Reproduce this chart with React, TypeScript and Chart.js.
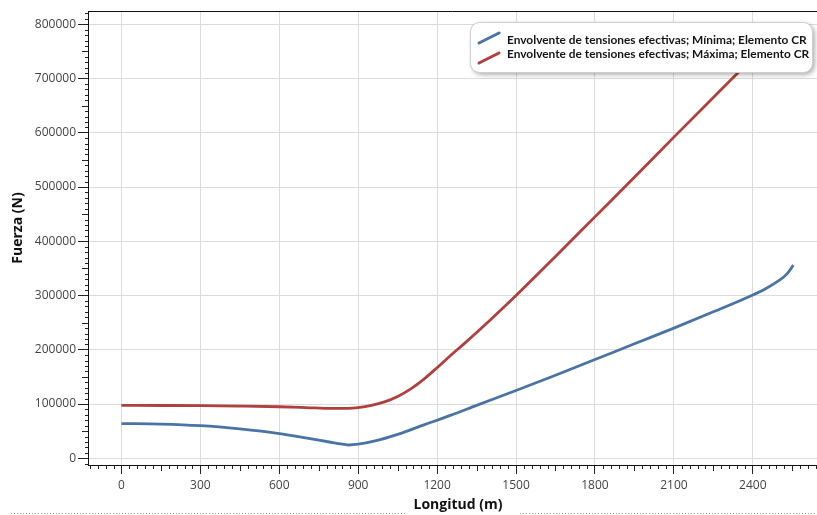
import React, { useEffect, useRef } from 'react';
import { Chart, registerables } from 'chart.js';

Chart.register(...registerables);

// ---- Data ----
const lengthMin = [0, 150, 300, 450, 600, 700, 790, 840, 865, 900, 960, 1050, 1150, 1250, 1350, 1500, 1650, 1800, 1950, 2100, 2250, 2400, 2450, 2500, 2530, 2554];
const minTension = [64000, 63000, 60000, 54000, 45500, 37500, 30000, 26000, 24500, 26000, 31500, 44000, 61500, 79000, 97500, 125000, 153000, 182000, 211000, 240000, 270000, 301000, 313000, 328000, 340000, 356000];

const lengthMax = [0, 150, 300, 450, 600, 700, 800, 860, 900, 950, 1000, 1050, 1100, 1150, 1200, 1250, 1300, 1400, 1500, 1650, 1800, 1950, 2100, 2250, 2400, 2500];
const maxTension = [97500, 97300, 97000, 96200, 95000, 93500, 91800, 92000, 93500, 97500, 104000, 114000, 128000, 146000, 167000, 189000, 210000, 254000, 300000, 372000, 445000, 518000, 592000, 665000, 738000, 786000];

const seriesLabels = [
  'Envolvente de tensiones efectivas; Mínima; Elemento CR',
  'Envolvente de tensiones efectivas; Máxima; Elemento CR',
];
const seriesColors = ['#4A73A6', '#B0403D'];

const xTickValues = [0, 300, 600, 900, 1200, 1500, 1800, 2100, 2400];
const yTickValues = [0, 100000, 200000, 300000, 400000, 500000, 600000, 700000, 800000];
const xTitle = 'Longitud (m)';
const yTitle = 'Fuerza (N)';

const X_MIN = -127;
const X_MAX = 2644;
const Y_MIN = -12400;
const Y_MAX = 824500;
const X_MINOR_STEP = 30;
const X_MID_STEP = 150;
const Y_MINOR_STEP = 10000;
const Y_MID_STEP = 50000;

const decorPlugin = {
  id: 'decor',
  afterDraw(chart: any) {
    const { ctx, chartArea } = chart;
    const xs = chart.scales.x;
    const ys = chart.scales.y;
    ctx.save();
    // top border
    ctx.strokeStyle = '#111';
    ctx.lineWidth = 1;
    ctx.beginPath();
    ctx.moveTo(chartArea.left, Math.round(chartArea.top) + 0.5);
    ctx.lineTo(chartArea.right, Math.round(chartArea.top) + 0.5);
    ctx.stroke();
    // minor ticks x
    ctx.strokeStyle = '#222';
    ctx.beginPath();
    for (let v = Math.ceil(X_MIN / X_MINOR_STEP) * X_MINOR_STEP; v <= X_MAX; v += X_MINOR_STEP) {
      if (v % 300 === 0) continue;
      const len = v % X_MID_STEP === 0 ? 6 : 4;
      const px = Math.round(xs.getPixelForValue(v)) + 0.5;
      ctx.moveTo(px, chartArea.bottom);
      ctx.lineTo(px, chartArea.bottom + len);
    }
    // minor ticks y
    for (let v = Math.ceil(Y_MIN / Y_MINOR_STEP) * Y_MINOR_STEP; v <= Y_MAX; v += Y_MINOR_STEP) {
      if (v % 100000 === 0) continue;
      const len = v % Y_MID_STEP === 0 ? 6 : 3;
      const py = Math.round(ys.getPixelForValue(v)) + 0.5;
      ctx.moveTo(chartArea.left - len, py);
      ctx.lineTo(chartArea.left, py);
    }
    ctx.stroke();

    // axis titles
    ctx.fillStyle = '#111';
    ctx.font = 'bold 14px "Open Sans", sans-serif';
    ctx.textAlign = 'center';
    ctx.textBaseline = 'middle';
    ctx.fillText(xTitle, 458, 505);
    ctx.save();
    ctx.translate(18.5, 228);
    ctx.rotate(-Math.PI / 2);
    ctx.fillText(yTitle, 0, 0);
    ctx.restore();

    // dotted line at bottom
    ctx.strokeStyle = '#9a9a9a';
    ctx.setLineDash([1, 2]);
    ctx.beginPath();
    ctx.moveTo(11, 513.5);
    ctx.lineTo(405, 513.5);
    ctx.moveTo(520, 513.5);
    ctx.lineTo(817, 513.5);
    ctx.stroke();
    ctx.setLineDash([]);

    // legend box
    const lx = 470.5, ly = 22.5, lw = 342, lh = 50;
    ctx.save();
    ctx.shadowColor = 'rgba(0,0,0,0.35)';
    ctx.shadowBlur = 5;
    ctx.shadowOffsetX = 2;
    ctx.shadowOffsetY = 2;
    ctx.beginPath();
    (ctx as any).roundRect(lx, ly, lw, lh, 9);
    ctx.fillStyle = '#ffffff';
    ctx.fill();
    ctx.restore();
    ctx.beginPath();
    (ctx as any).roundRect(lx, ly, lw, lh, 9);
    ctx.strokeStyle = '#cfcfcf';
    ctx.lineWidth = 1;
    ctx.stroke();

    // legend font fitted to width
    const family = '"Lato", "Open Sans", sans-serif';
    ctx.font = `bold 12px ${family}`;
    const w = ctx.measureText(chart.data.datasets[0].label).width;
    const size = Math.min(14, (12 * 300) / w);
    ctx.font = `bold ${size.toFixed(2)}px ${family}`;
    ctx.fillStyle = '#151515';
    ctx.textBaseline = 'middle';
    ctx.textAlign = 'left';
    const textY = [40.5, 54];
    const iconY = [[43, 33], [63, 53]];
    chart.data.datasets.forEach((ds: any, i: number) => {
      ctx.strokeStyle = ds.borderColor;
      ctx.lineWidth = 3;
      ctx.lineCap = 'round';
      ctx.beginPath();
      ctx.moveTo(479, iconY[i][0]);
      ctx.lineTo(499, iconY[i][1]);
      ctx.stroke();
      ctx.fillText(ds.label, 507, textY[i]);
    });
    ctx.restore();
  },
};

export default function App() {
  const ref = useRef<HTMLCanvasElement | null>(null);
  useEffect(() => {
    if (!ref.current) return;
    Chart.defaults.font.family = '"Open Sans", "Noto Sans", sans-serif';
    const chart = new Chart(ref.current, {
      type: 'line',
      data: {
        datasets: [
          {
            label: seriesLabels[0],
            data: lengthMin.map((x, i) => ({ x, y: minTension[i] })),
            borderColor: seriesColors[0],
            borderWidth: 2.8,
            pointRadius: 0,
            fill: false,
            cubicInterpolationMode: 'monotone',
          },
          {
            label: seriesLabels[1],
            data: lengthMax.map((x, i) => ({ x, y: maxTension[i] })),
            borderColor: seriesColors[1],
            borderWidth: 2.8,
            pointRadius: 0,
            fill: false,
            cubicInterpolationMode: 'monotone',
          },
        ],
      },
      options: {
        responsive: false,
        animation: false,
        devicePixelRatio: 1,
        layout: { padding: { top: 11, right: 0, bottom: 0, left: 0 } },
        plugins: { legend: { display: false }, tooltip: { enabled: false } },
        scales: {
          x: {
            type: 'linear',
            min: X_MIN,
            max: X_MAX,
            afterBuildTicks: (s: any) => {
              s.ticks = xTickValues.map((v) => ({ value: v }));
            },
            afterFit: (s: any) => {
              s.height = 50;
            },
            ticks: {
              callback: (v: any) => String(v),
              color: '#444',
              font: { size: 12 },
              padding: 4,
              maxRotation: 0,
              autoSkip: false,
            },
            grid: { color: '#dcdcdc', lineWidth: 1, tickLength: 9, tickColor: '#222' },
            border: { color: '#111', width: 1 },
            title: { display: false, text: xTitle },
          },
          y: {
            type: 'linear',
            min: Y_MIN,
            max: Y_MAX,
            afterBuildTicks: (s: any) => {
              s.ticks = yTickValues.map((v) => ({ value: v }));
            },
            afterFit: (s: any) => {
              s.width = 88;
            },
            ticks: {
              callback: (v: any) => String(v),
              color: '#444',
              font: { size: 12 },
              padding: 2,
              autoSkip: false,
            },
            grid: { color: '#dcdcdc', lineWidth: 1, tickLength: 10, tickColor: '#222' },
            border: { color: '#111', width: 1 },
            title: { display: false, text: yTitle },
          },
        },
      },
      plugins: [decorPlugin],
    } as any);
    return () => chart.destroy();
  }, []);
  return (
    <div style={{ position: 'fixed', left: 0, top: 0, width: 817, height: 515, background: '#fff' }}>
      <canvas ref={ref} width={817} height={515} style={{ display: 'block', width: 817, height: 515 }} />
    </div>
  );
}
